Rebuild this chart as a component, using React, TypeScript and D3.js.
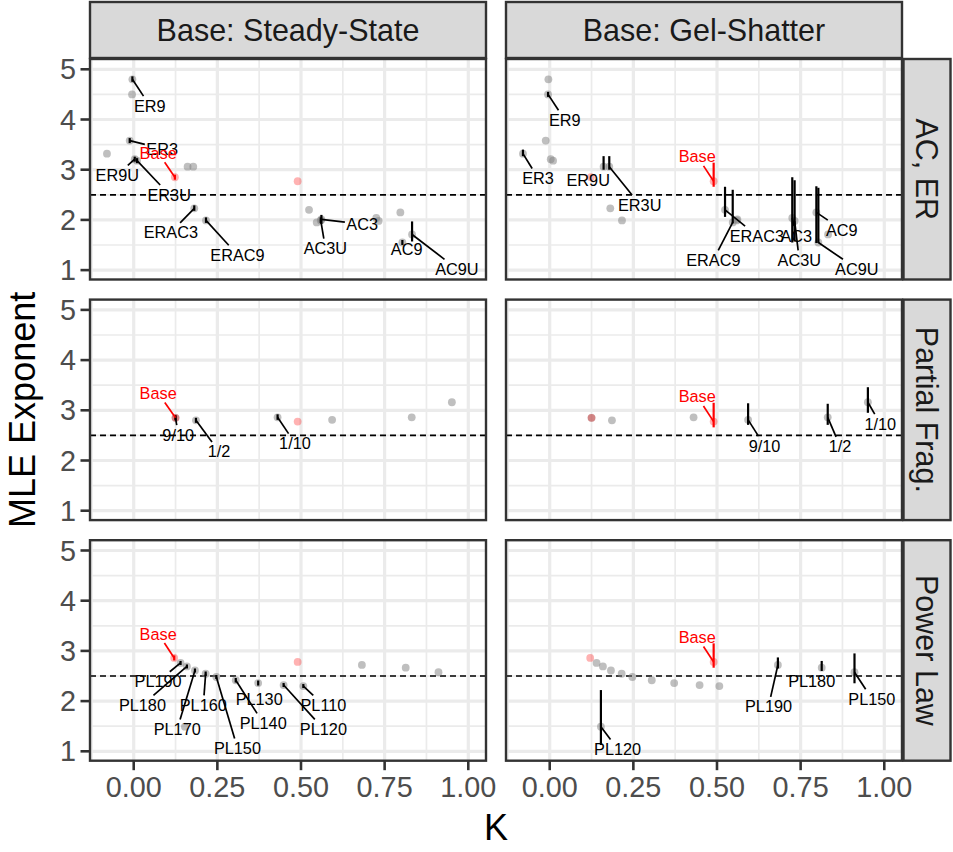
import React, { useEffect, useRef } from 'react'
import * as d3 from 'd3'

// [K, MLE exponent, is a base run (1) or not (0)]
type Pt = [number, number, number]
// [text, point index, label K, label exponent, interval low, interval high]
type Lab = [string, number, number, number, number, number]

const W = 953
const H = 852
const FONT = '"Liberation Sans", Arial, Helvetica, sans-serif'

const columns = ['Base: Steady-State', 'Base: Gel-Shatter']
const rowNames = ['AC, ER', 'Partial Frag.', 'Power Law']
const xTicks = [0, 0.25, 0.5, 0.75, 1]
const xMinor = [-0.125, 0.125, 0.375, 0.625, 0.875]
const yTicks = [1, 2, 3, 4, 5]
const yMinor = [1.5, 2.5, 3.5, 4.5]
const refLine = 2.5

// AC, ER
const acErPoints: Pt[] = [
  [-0.004, 4.8, 0],
  [-0.005, 4.5, 0],
  [-0.012, 3.58, 0],
  [-0.08, 3.32, 0],
  [0.003, 3.21, 0],
  [0.01, 3.18, 0],
  [0.161, 3.06, 0],
  [0.178, 3.06, 0],
  [0.123, 2.85, 1],
  [0.49, 2.77, 1],
  [0.181, 2.23, 0],
  [0.216, 1.99, 0],
  [0.524, 2.2, 0],
  [0.547, 1.95, 0],
  [0.561, 2.01, 0],
  [0.559, 1.99, 0],
  [0.725, 2.04, 0],
  [0.732, 1.98, 0],
  [0.797, 2.15, 0],
  [0.803, 1.55, 0],
  [0.832, 1.71, 0],
]
const acErSteady: Lab[] = [
  ['ER9', 0, 0.048, 4.27, 4.75, 4.86],
  ['ER3', 2, 0.085, 3.41, 3.53, 3.63],
  ['Base', 8, 0.073, 3.33, 2.8, 2.9],
  ['ER9U', 4, -0.049, 2.89, 3.16, 3.26],
  ['ER3U', 5, 0.106, 2.5, 3.13, 3.23],
  ['ERAC3', 10, 0.111, 1.745, 2.18, 2.29],
  ['ERAC9', 11, 0.31, 1.3, 1.94, 2.05],
  ['AC3', 14, 0.683, 1.91, 1.92, 2.1],
  ['AC3U', 15, 0.573, 1.43, 1.94, 2.05],
  ['AC9', 19, 0.816, 1.42, 1.5, 1.6],
  ['AC9U', 20, 0.966, 1.02, 1.57, 1.97],
]
const acErGel: Lab[] = [
  ['ER9', 1, 0.045, 3.99, 4.45, 4.55],
  ['ER3', 3, -0.035, 2.83, 3.27, 3.4],
  ['ER9U', 6, 0.115, 2.795, 3.0, 3.27],
  ['ER3U', 7, 0.269, 2.3, 3.0, 3.27],
  ['Base', 9, 0.441, 3.26, 2.66, 3.14],
  ['ERAC3', 12, 0.619, 1.68, 2.06, 2.66],
  ['ERAC9', 13, 0.489, 1.2, 1.93, 2.6],
  ['AC3', 16, 0.737, 1.68, 1.55, 2.85],
  ['AC3U', 17, 0.746, 1.2, 1.57, 2.79],
  ['AC9', 18, 0.873, 1.8, 1.54, 2.67],
  ['AC9U', 19, 0.918, 1.02, 1.54, 2.64],
]

// Partial Frag.
const fragPoints: Pt[] = [
  [0.125, 2.85, 0],
  [0.125, 2.85, 1],
  [0.186, 2.8, 0],
  [0.43, 2.86, 0],
  [0.49, 2.775, 1],
  [0.593, 2.81, 0],
  [0.831, 2.86, 0],
  [0.951, 3.16, 0],
]
const fragSteady: Lab[] = [
  ['Base', 1, 0.073, 3.34, 2.8, 2.9],
  ['9/10', 0, 0.133, 2.51, 2.8, 2.9],
  ['1/2', 2, 0.255, 2.175, 2.75, 2.85],
  ['1/10', 3, 0.482, 2.34, 2.81, 2.92],
]
const fragGel: Lab[] = [
  ['Base', 4, 0.441, 3.27, 2.66, 3.15],
  ['9/10', 5, 0.642, 2.29, 2.71, 3.14],
  ['1/2', 6, 0.868, 2.275, 2.71, 3.13],
  ['1/10', 7, 0.988, 2.73, 2.95, 3.46],
]

// Power Law
const plPoints: Pt[] = [
  [0.121, 2.86, 1],
  [0.14, 2.76, 0],
  [0.159, 2.69, 0],
  [0.183, 2.61, 0],
  [0.215, 2.545, 0],
  [0.247, 2.48, 0],
  [0.305, 2.415, 0],
  [0.372, 2.36, 0],
  [0.448, 2.32, 0],
  [0.507, 2.3, 0],
  [0.49, 2.78, 1],
  [0.682, 2.72, 0],
  [0.813, 2.665, 0],
  [0.911, 2.575, 0],
  [0.153, 1.49, 0],
]
const plSteady: Lab[] = [
  ['Base', 0, 0.073, 3.34, 2.81, 2.91],
  ['PL190', 1, 0.073, 2.39, 2.72, 2.8],
  ['PL180', 2, 0.026, 1.92, 2.65, 2.73],
  ['PL170', 3, 0.13, 1.44, 2.57, 2.65],
  ['PL160', 4, 0.208, 1.92, 2.5, 2.59],
  ['PL150', 5, 0.31, 1.06, 2.44, 2.52],
  ['PL140', 6, 0.387, 1.56, 2.37, 2.46],
  ['PL130', 7, 0.375, 2.04, 2.31, 2.41],
  ['PL120', 8, 0.567, 1.44, 2.28, 2.36],
  ['PL110', 9, 0.567, 1.92, 2.26, 2.34],
]
const plGel: Lab[] = [
  ['Base', 10, 0.441, 3.27, 2.665, 3.15],
  ['PL190', 11, 0.654, 1.89, 2.65, 2.87],
  ['PL180', 12, 0.783, 2.39, 2.6, 2.8],
  ['PL150', 13, 0.963, 2.04, 2.355, 2.95],
  ['PL120', 14, 0.203, 1.04, 1.125, 2.22],
]

const panelPoints = [acErPoints, fragPoints, plPoints]
const panelLabels = [
  [acErSteady, acErGel],
  [fragSteady, fragGel],
  [plSteady, plGel],
]

const panelX = [90, 506]
const panelY = [59, 299.6, 540.2]
const PW = 396
const PH = 220.5

const App = () => {
  const svgRef = useRef<SVGSVGElement>(null)

  useEffect(() => {
    const svg = d3.select(svgRef.current)
    svg.selectAll('*').remove()

    const x = d3.scaleLinear().domain([-0.1307, 1.053]).range([0, PW])
    const y = d3.scaleLinear().domain([0.813, 5.205]).range([PH, 0])

    svg.append('rect').attr('width', W).attr('height', H).attr('fill', 'white')

    // column strips
    columns.forEach((name, c) => {
      svg.append('rect')
        .attr('x', panelX[c]).attr('y', 2).attr('width', PW).attr('height', 56)
        .attr('fill', '#D9D9D9').attr('stroke', '#333333').attr('stroke-width', 2.4)
      svg.append('text')
        .attr('x', panelX[c] + PW / 2).attr('y', 30).attr('dy', '0.35em')
        .attr('text-anchor', 'middle').attr('font-family', FONT)
        .attr('font-size', 30.5).attr('fill', '#1A1A1A')
        .text(name)
    })

    // row strips
    rowNames.forEach((name, r) => {
      svg.append('rect')
        .attr('x', 903.5).attr('y', panelY[r]).attr('width', 47).attr('height', PH)
        .attr('fill', '#D9D9D9').attr('stroke', '#333333').attr('stroke-width', 2.4)
      svg.append('text')
        .attr('transform', `translate(${927},${panelY[r] + PH / 2}) rotate(90)`)
        .attr('dy', '0.35em')
        .attr('text-anchor', 'middle').attr('font-family', FONT)
        .attr('font-size', 30.5).attr('fill', '#1A1A1A')
        .text(name)
    })

    panelPoints.forEach((pts, r) => {
      columns.forEach((_, c) => {
        const g = svg.append('g').attr('transform', `translate(${panelX[c]},${panelY[r]})`)

        g.append('rect').attr('width', PW).attr('height', PH).attr('fill', 'white')

        g.selectAll('.minor-x').data(xMinor).enter().append('line')
          .attr('x1', d => x(d)).attr('x2', d => x(d)).attr('y1', 0).attr('y2', PH)
          .attr('stroke', '#EBEBEB').attr('stroke-width', 1.7)
        g.selectAll('.minor-y').data(yMinor).enter().append('line')
          .attr('y1', d => y(d)).attr('y2', d => y(d)).attr('x1', 0).attr('x2', PW)
          .attr('stroke', '#EBEBEB').attr('stroke-width', 1.7)
        g.selectAll('.major-x').data(xTicks).enter().append('line')
          .attr('x1', d => x(d)).attr('x2', d => x(d)).attr('y1', 0).attr('y2', PH)
          .attr('stroke', '#EBEBEB').attr('stroke-width', 3.2)
        g.selectAll('.major-y').data(yTicks).enter().append('line')
          .attr('y1', d => y(d)).attr('y2', d => y(d)).attr('x1', 0).attr('x2', PW)
          .attr('stroke', '#EBEBEB').attr('stroke-width', 3.2)

        // reference line
        g.append('line')
          .attr('x1', 0).attr('x2', PW).attr('y1', y(refLine)).attr('y2', y(refLine))
          .attr('stroke', 'black').attr('stroke-width', 1.7).attr('stroke-dasharray', '6,4')

        // points
        g.selectAll('.pt').data(pts).enter().append('circle')
          .attr('cx', d => x(d[0])).attr('cy', d => y(d[1])).attr('r', 3.9)
          .attr('fill', d => d[2] ? '#FF0000' : '#7F7F7F')
          .attr('fill-opacity', d => d[2] ? 0.3 : 0.5)

        const labs = panelLabels[r][c]
        const colorOf = (l: Lab) => l[0] === 'Base' ? '#FF0000' : 'black'

        // intervals
        g.selectAll('.iv').data(labs).enter().append('line')
          .attr('x1', d => x(pts[d[1]][0])).attr('x2', d => x(pts[d[1]][0]))
          .attr('y1', d => y(d[4])).attr('y2', d => y(d[5]))
          .attr('stroke', colorOf).attr('stroke-width', 2.2)

        const segG = g.append('g')
        const txtG = g.append('g')

        labs.forEach(l => {
          const t = txtG.append('text')
            .attr('x', x(l[2])).attr('y', y(l[3])).attr('dy', '0.35em')
            .attr('text-anchor', 'middle').attr('font-family', FONT)
            .attr('font-size', 16.3).attr('fill', colorOf(l))
            .text(l[0])
          const bb = (t.node() as SVGTextElement).getBBox()
          const cx = bb.x + bb.width / 2
          const cy = bb.y + bb.height / 2
          const hw = bb.width / 2 + 1.5
          const hh = bb.height / 2 + 0.5
          const px = x(pts[l[1]][0])
          const py = y(pts[l[1]][1])
          const dx = px - cx
          const dy = py - cy
          if (Math.abs(dx) <= hw && Math.abs(dy) <= hh) return
          const tx = dx !== 0 ? hw / Math.abs(dx) : Infinity
          const ty = dy !== 0 ? hh / Math.abs(dy) : Infinity
          const s = Math.min(tx, ty)
          const ex = cx + dx * s
          const ey = cy + dy * s
          if (Math.hypot(px - ex, py - ey) < 7) return
          segG.append('line')
            .attr('x1', px).attr('y1', py).attr('x2', ex).attr('y2', ey)
            .attr('stroke', colorOf(l)).attr('stroke-width', 1.7)
        })

        g.append('rect').attr('width', PW).attr('height', PH)
          .attr('fill', 'none').attr('stroke', '#333333').attr('stroke-width', 2.4)
      })

      // y axis
      const ya = svg.append('g').attr('transform', `translate(${panelX[0]},${panelY[r]})`)
      ya.selectAll('line').data(yTicks).enter().append('line')
        .attr('x1', -9.5).attr('x2', 0).attr('y1', d => y(d)).attr('y2', d => y(d))
        .attr('stroke', '#333333').attr('stroke-width', 2.6)
      ya.selectAll('text').data(yTicks).enter().append('text')
        .attr('x', -14).attr('y', d => y(d)).attr('dy', '0.35em')
        .attr('text-anchor', 'end').attr('font-family', FONT)
        .attr('font-size', 28.8).attr('fill', '#4D4D4D')
        .text(d => d)
    })

    // x axes
    columns.forEach((_, c) => {
      const xa = svg.append('g').attr('transform', `translate(${panelX[c]},${panelY[2] + PH})`)
      xa.selectAll('line').data(xTicks).enter().append('line')
        .attr('x1', d => x(d)).attr('x2', d => x(d)).attr('y1', 0).attr('y2', 9.5)
        .attr('stroke', '#333333').attr('stroke-width', 2.6)
      xa.selectAll('text').data(xTicks).enter().append('text')
        .attr('x', d => x(d)).attr('y', 36)
        .attr('text-anchor', 'middle').attr('font-family', FONT)
        .attr('font-size', 28.8).attr('fill', '#4D4D4D')
        .text(d => d3.format('.2f')(d))
    })

    svg.append('text')
      .attr('x', (panelX[0] + panelX[1] + PW) / 2).attr('y', 840)
      .attr('text-anchor', 'middle').attr('font-family', FONT)
      .attr('font-size', 36).attr('fill', 'black')
      .text('K')

    svg.append('text')
      .attr('transform', `translate(35,${(panelY[0] + panelY[2] + PH) / 2}) rotate(-90)`)
      .attr('text-anchor', 'middle').attr('font-family', FONT)
      .attr('font-size', 36).attr('fill', 'black')
      .text('MLE Exponent')
  }, [])

  return (
    <svg ref={svgRef} width={W} height={H} style={{ position: 'absolute', left: 0, top: 0 }}></svg>
  )
}

export default App
